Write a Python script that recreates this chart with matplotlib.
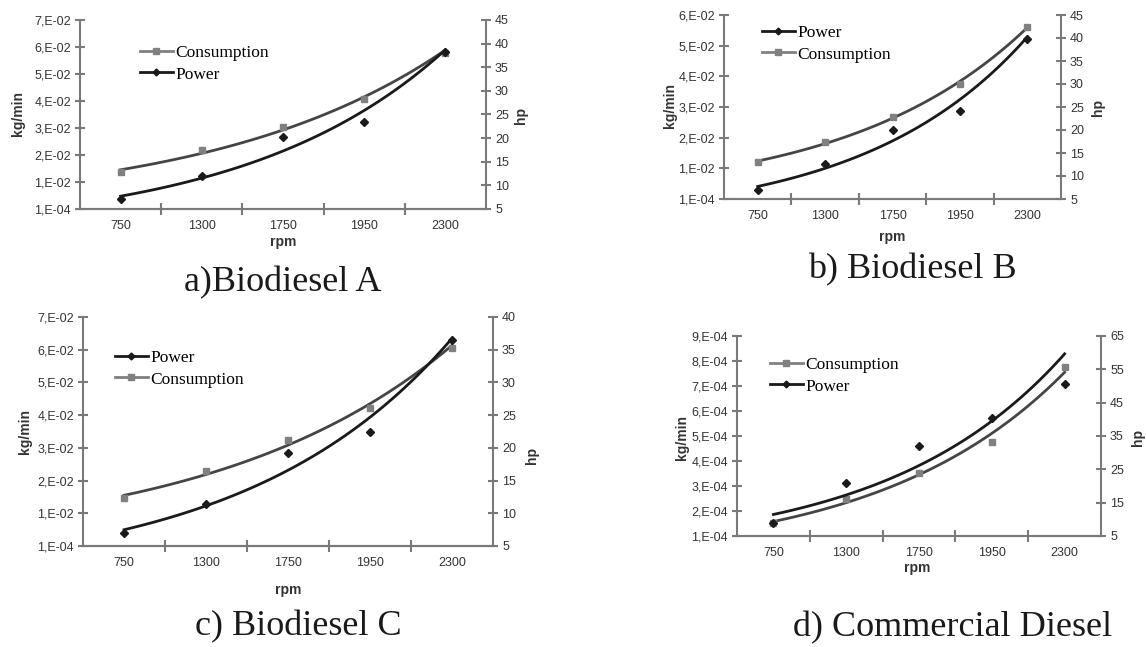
import numpy as np
import matplotlib.pyplot as plt
from matplotlib.lines import Line2D

# Data (consumption in kg/min, power in hp)
rpm = ["750", "1300", "1750", "1950", "2300"]

cons_a = [0.0138, 0.0220, 0.0305, 0.0408, 0.0579]
power_a = [7.1, 12.0, 20.2, 23.4, 38.2]

cons_b = [0.0122, 0.0187, 0.0268, 0.0376, 0.0562]
power_b = [7.0, 12.6, 20.1, 24.2, 39.7]

cons_c = [0.0148, 0.0230, 0.0325, 0.0423, 0.0606]
power_c = [7.0, 11.4, 19.2, 22.4, 36.5]

cons_d = [1.52e-4, 2.48e-4, 3.52e-4, 4.76e-4, 7.76e-4]
power_d = [8.9, 21.0, 32.1, 40.3, 50.5]

titles = ["a)Biodiesel A", "b) Biodiesel B", "c) Biodiesel C", "d) Commercial Diesel"]

W, H = 1146, 647
cons_color = "#808080"
power_color = "#1a1a1a"
cons_trend = "#454545"
power_trend = "#1a1a1a"
axis_color = "#7a7a7a"
serif = ["Liberation Serif", "DejaVu Serif"]
sans = ["Liberation Sans", "DejaVu Sans"]


def px(x, y):
    return x / W, 1 - y / H


def sci_label(v):
    s = "%.0E" % v
    return s[0] + "," + s[1:]


def exp_trend(x, y):
    b, a = np.polyfit(x, np.log(y), 1)
    xs = np.linspace(x[0], x[-1], 100)
    return xs, np.exp(a + b * xs)


# (left, top, right, bottom) in pixels, y-range, hp range/step, legend order, label spots
panels = [
    dict(cons=cons_a, power=power_a, box=(80, 20, 486, 209), ymax=0.0701, ystep=0.01,
         hp=(5, 45, 5), order=["c", "p"], leg=(140, 45),
         kg=(18, 114), rpmlab=(283, 242), hplab=(521, 115), title=(283, 283)),
    dict(cons=cons_b, power=power_b, box=(724, 15, 1061, 199), ymax=0.0601, ystep=0.01,
         hp=(5, 45, 5), order=["p", "c"], leg=(762, 25),
         kg=(670, 106), rpmlab=(892, 237), hplab=(1098, 108), title=(912, 270)),
    dict(cons=cons_c, power=power_c, box=(83, 317, 493, 546), ymax=0.0701, ystep=0.01,
         hp=(5, 40, 5), order=["p", "c"], leg=(115, 350),
         kg=(25, 431), rpmlab=(288, 590), hplab=(532, 456), title=(298, 627)),
    dict(cons=cons_d, power=power_d, box=(737, 336, 1101, 536), ymax=9e-4, ystep=1e-4,
         hp=(5, 65, 10), order=["c", "p"], leg=(770, 357),
         kg=(682, 437), rpmlab=(917, 568), hplab=(1138, 437), title=(953, 628)),
]

fig = plt.figure(figsize=(W / 100, H / 100), dpi=100)
x = np.arange(1, len(rpm) + 1)

for p, title in zip(panels, titles):
    l, t, r, b = p["box"]
    ax = fig.add_axes([l / W, 1 - b / H, (r - l) / W, (b - t) / H])
    ax2 = ax.twinx()

    # consumption on the left axis
    xs, ys = exp_trend(x, p["cons"])
    ax.plot(xs, ys, color=cons_trend, lw=2)
    ax.plot(x, p["cons"], "s", color=cons_color, ms=5, zorder=3)

    # power on the right axis
    xs, ys = exp_trend(x, p["power"])
    ax2.plot(xs, ys, color=power_trend, lw=2)
    ax2.plot(x, p["power"], "D", color=power_color, ms=4, zorder=3)

    ax.set_xlim(0.5, len(rpm) + 0.5)
    ax.set_ylim(1e-4, p["ymax"])
    if p["ystep"] == 0.01:
        yt = 1e-4 + np.arange(0, 8) * 0.01
        yt = yt[yt <= p["ymax"] + 1e-9]
    else:
        yt = np.arange(1, 10) * 1e-4
    ax.set_yticks(yt)
    ax.set_yticklabels([sci_label(v) for v in yt])

    h0, h1, hs = p["hp"]
    ax2.set_ylim(h0, h1)
    ax2.set_yticks(np.arange(h0, h1 + 0.1, hs))

    ax.set_xticks(x)
    ax.set_xticklabels(rpm)
    ax.set_xticks(np.arange(1.5, len(rpm)), minor=True)
    ax.tick_params(axis="x", which="major", length=0, pad=8)
    ax.tick_params(axis="x", which="minor", direction="inout", length=8,
                   width=1.5, color=axis_color)
    ax.tick_params(axis="y", direction="inout", length=7, width=1.5,
                   color=axis_color, pad=3)
    ax2.tick_params(axis="y", direction="inout", length=7, width=1.5,
                    color=axis_color, pad=3)

    for a_ in (ax, ax2):
        a_.spines["top"].set_visible(False)
        for s in a_.spines.values():
            s.set_color(axis_color)
            s.set_linewidth(1.5)
        a_.patch.set_visible(False)
        for lab in a_.get_xticklabels() + a_.get_yticklabels():
            lab.set_family(sans)
            lab.set_fontsize(9)
            lab.set_color("#333333")
    ax.spines["right"].set_visible(False)
    ax2.spines["left"].set_visible(False)

    ax.set_ylabel("kg/min", fontsize=10, fontweight="bold", family=sans, color="#333333")
    ax.yaxis.set_label_coords(*px(*p["kg"]), transform=fig.transFigure)
    ax.set_xlabel("rpm", fontsize=10, fontweight="bold", family=sans, color="#333333")
    ax.xaxis.set_label_coords(*px(*p["rpmlab"]), transform=fig.transFigure)
    ax2.set_ylabel("hp", fontsize=10, fontweight="bold", family=sans, color="#333333",
                   rotation=90)
    ax2.yaxis.set_label_coords(*px(*p["hplab"]), transform=fig.transFigure)
    ax.xaxis.label.set_va("center")
    ax.yaxis.label.set_va("center")
    ax2.yaxis.label.set_va("center")

    handles = {
        "c": Line2D([], [], color=cons_color, lw=2, marker="s", ms=4.5),
        "p": Line2D([], [], color=power_color, lw=2, marker="D", ms=3.5),
    }
    names = {"c": "Consumption", "p": "Power"}
    ax2.legend([handles[k] for k in p["order"]], [names[k] for k in p["order"]],
               loc="upper left", bbox_to_anchor=px(*p["leg"]),
               bbox_transform=fig.transFigure, frameon=False, borderpad=0,
               borderaxespad=0, handlelength=1.9, handletextpad=0.15,
               labelspacing=0.3, prop={"family": serif, "size": 12.5})

    fig.text(*px(*p["title"]), title, ha="center", va="center",
             family=serif, fontsize=26, color="#1a1a1a")

fig.savefig("out.png", dpi=100)
